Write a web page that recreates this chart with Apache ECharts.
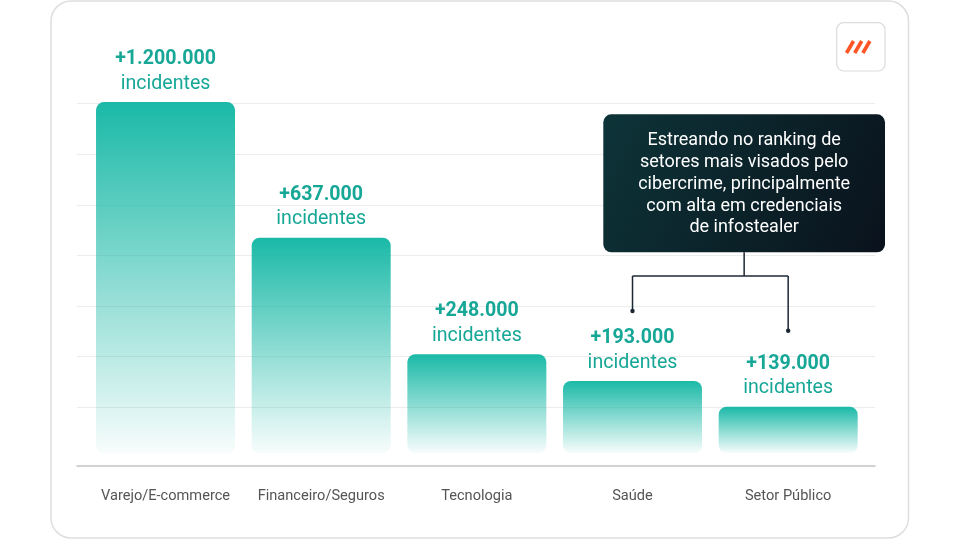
<!DOCTYPE html>
<html>
  <head>
    <meta charset="UTF-8" />
    <title>incidentes por setor</title>
    <script src="https://cdn.jsdelivr.net/npm/echarts@6/dist/echarts.min.js"></script>
    <style>
      html, body { margin: 0; padding: 0; background: #fff; }
      #main { width: 960px; height: 540px; }
    </style>
  </head>
  <body>
    <div id="main"></div>
    <script>
      // setores e rotulos
      const sectors = ['Varejo/E-commerce', 'Financeiro/Seguros', 'Tecnologia', 'Saúde', 'Setor Público'];
      const incidentLabels = ['+1.200.000', '+637.000', '+248.000', '+193.000', '+139.000'];
      // altura das barras como aparece na arte (em linhas de grade)
      const barHeights = [6.94, 4.26, 1.96, 1.43, 0.92];
      const gridTicks = [0, 6];
      const noteText = 'Estreando no ranking de\nsetores mais visados pelo\ncibercrime, principalmente\ncom alta em credenciais\nde infostealer';
      const noteTargets = [3, 4];

      const teal = '#1ab9a7';
      const labelTeal = '#17a797';

      var chartDom = document.getElementById('main');
      var myChart = echarts.init(chartDom);

      var option = {
        animation: false,
        textStyle: { fontFamily: 'Roboto' },
        grid: [
          { left: 87.7, right: 94, top: 99, bottom: 74 },
          { left: 77, right: 85, top: 103.7, bottom: 132.7 }
        ],
        xAxis: [
          {
            type: 'category',
            gridIndex: 0,
            data: sectors,
            axisLine: { show: false },
            axisTick: { show: false },
            axisLabel: { color: '#555', fontSize: 14.6, margin: 23, interval: 0 }
          },
          {
            type: 'value',
            gridIndex: 1,
            min: 0,
            max: 1,
            offset: 58.7,
            axisLine: { show: true, onZero: false, lineStyle: { color: '#c4c4c4', width: 1.5 } },
            axisTick: { show: false },
            axisLabel: { show: false },
            splitLine: { show: false }
          }
        ],
        yAxis: [
          { type: 'value', gridIndex: 0, min: -0.25, max: 7, show: false },
          {
            type: 'value',
            gridIndex: 1,
            min: gridTicks[0],
            max: gridTicks[1],
            interval: 1,
            axisLine: { show: false },
            axisTick: { show: false },
            axisLabel: { show: false },
            splitLine: { lineStyle: { color: '#ececec', width: 1 } }
          }
        ],
        series: [
          {
            type: 'bar',
            xAxisIndex: 0,
            yAxisIndex: 0,
            data: barHeights,
            barWidth: 139,
            itemStyle: {
              borderRadius: 8,
              color: new echarts.graphic.LinearGradient(0, 0, 0, 1, [
                { offset: 0, color: teal },
                { offset: 1, color: 'rgba(26,185,167,0.03)' }
              ])
            },
            label: {
              show: true,
              position: 'top',
              distance: 6,
              formatter: (p) => '{v|' + incidentLabels[p.dataIndex] + '}\n{t|incidentes}',
              rich: {
                v: { color: labelTeal, fontSize: 19.6, fontWeight: 'bold', lineHeight: 24.5, fontFamily: 'Roboto' },
                t: { color: labelTeal, fontSize: 19.6, lineHeight: 24.5, fontFamily: 'Roboto' }
              }
            }
          }
        ]
      };
      myChart.setOption(option, true);

      // card, logo e anotacao
      const xA = myChart.convertToPixel({ xAxisIndex: 0 }, sectors[noteTargets[0]]);
      const xB = myChart.convertToPixel({ xAxisIndex: 0 }, sectors[noteTargets[1]]);
      const boxX = 603.3, boxY = 114.3, boxW = 281.7, boxH = 138;
      const midX = boxX + boxW / 2;
      const joinY = 276;
      const lineStyle = { stroke: '#1c2733', lineWidth: 1.5 };

      const graphics = [
        {
          type: 'rect',
          shape: { x: 51, y: 1, width: 857.5, height: 537, r: 20 },
          style: { fill: 'transparent', stroke: '#dedede', lineWidth: 1.5 }
        },
        {
          type: 'rect',
          shape: { x: 836.7, y: 22.7, width: 48.3, height: 48.3, r: 7 },
          style: { fill: '#fff', stroke: '#dcdcdc', lineWidth: 1.2 }
        },
        {
          type: 'rect',
          shape: { x: boxX, y: boxY, width: boxW, height: boxH, r: 8 },
          style: {
            fill: new echarts.graphic.LinearGradient(0, 0, 1, 1, [
              { offset: 0, color: '#0d3438' },
              { offset: 1, color: '#0a121c' }
            ])
          }
        },
        {
          type: 'text',
          style: {
            text: noteText,
            x: midX,
            y: boxY + boxH / 2 + 1,
            align: 'center',
            verticalAlign: 'middle',
            fill: '#fff',
            fontSize: 18,
            fontFamily: 'Roboto',
            lineHeight: 21.8
          }
        },
        { type: 'line', shape: { x1: midX, y1: boxY + boxH, x2: midX, y2: joinY }, style: lineStyle },
        { type: 'line', shape: { x1: xA, y1: joinY, x2: xB, y2: joinY }, style: lineStyle },
        { type: 'line', shape: { x1: xA, y1: joinY, x2: xA, y2: 311 }, style: lineStyle },
        { type: 'line', shape: { x1: xB, y1: joinY, x2: xB, y2: 330.7 }, style: lineStyle },
        { type: 'circle', shape: { cx: xA, cy: 311, r: 2.2 }, style: { fill: '#1c2733' } },
        { type: 'circle', shape: { cx: xB, cy: 330.7, r: 2.2 }, style: { fill: '#1c2733' } }
      ];
      for (let i = 0; i < 3; i++) {
        graphics.push({
          type: 'line',
          shape: { x1: 846.5 + i * 8.2, y1: 53, x2: 853.5 + i * 8.2, y2: 41 },
          style: { stroke: '#ff5526', lineWidth: 3.6 }
        });
      }
      myChart.setOption({ graphic: graphics });
    </script>
  </body>
</html>
